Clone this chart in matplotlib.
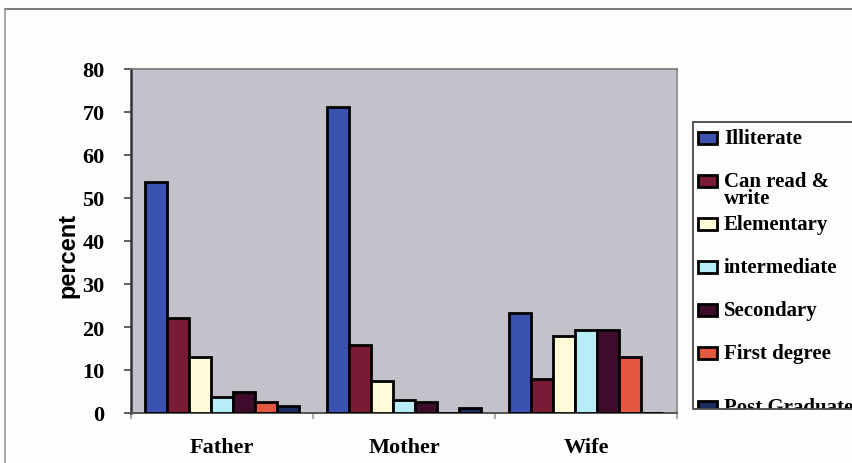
import matplotlib
matplotlib.use("Agg")
import matplotlib.pyplot as plt
import numpy as np
from matplotlib.patches import Rectangle

# Education level of relatives (percent)
groups = ["Father", "Mother", "Wife"]
levels = ["Illiterate", "Can read &\nwrite", "Elementary", "intermediate",
          "Secondary", "First degree", "Post Graduate"]
father = [53.7, 22.0, 13.0, 3.8, 4.9, 2.6, 1.7]
mother = [71.2, 15.9, 7.5, 3.0, 2.6, 0.0, 1.2]
wife = [23.2, 8.0, 18.0, 19.3, 19.3, 13.0, 0.0]
yticks = [0, 10, 20, 30, 40, 50, 60, 70, 80]

colors = ["#3b52b0", "#7b1a35", "#fffbd8", "#b8ecf7", "#3d0c2b", "#e4573f", "#1b2c5e"]

serif = "Liberation Serif"
sans = "Liberation Sans"

W, H = 853, 464
fig = plt.figure(figsize=(W / 100, H / 100), dpi=100, facecolor="#fdfdfd")

def fx(px):
    return px / W

def fy(py):
    return 1 - py / H

ax = fig.add_axes([fx(131), fy(414), fx(677) - fx(131), fy(70) - fy(414)])
ax.set_facecolor("#c4c1cb")

data = np.array([father, mother, wife])
n = len(levels)
bw = 0.845 / n
x = np.arange(len(groups))
for i in range(n):
    ax.bar(x - 0.4225 + bw * (i + 0.5), data[:, i], width=bw, color=colors[i],
           edgecolor="black", linewidth=2.0, zorder=3)

ax.set_xlim(-0.5, len(groups) - 0.5)
ax.set_ylim(0, 80)
ax.set_yticks(yticks)
ax.set_yticklabels([str(v) for v in yticks], fontfamily=serif, fontweight="bold", fontsize=16)
ax.tick_params(axis="y", direction="out", length=5, width=1.2, color="#444444", pad=14)

ax.set_xticks(np.arange(len(groups) + 1) - 0.5)
ax.set_xticklabels([])
ax.tick_params(axis="x", which="major", direction="out", length=4, width=1.2, color="#999999")
ax.set_xticks(x, minor=True)
ax.set_xticklabels(groups, minor=True, fontfamily=serif, fontweight="bold", fontsize=16)
ax.tick_params(axis="x", which="minor", length=0, pad=17)

for side, col, lw in [("left", "#333333", 1.8), ("bottom", "#555555", 1.4),
                      ("top", "#777777", 1.2), ("right", "#888888", 1.2)]:
    ax.spines[side].set_color(col)
    ax.spines[side].set_linewidth(lw)

ax.set_ylabel("percent", fontfamily=sans, fontweight="bold", fontsize=17)
ax.yaxis.set_label_coords(-0.095, 0.46)

# Outer chart border
fig.add_artist(plt.Line2D([fx(5), 1], [fy(10), fy(10)], color="#666666", lw=1.2))
fig.add_artist(plt.Line2D([fx(5), fx(5)], [fy(10), 0], color="#999999", lw=1.2))

# Legend box (runs past the right edge)
lx0, ly0, lx1, ly1 = 693, 123, 880, 410
box = Rectangle((fx(lx0), fy(ly1)), fx(lx1) - fx(lx0), fy(ly0) - fy(ly1),
                transform=fig.transFigure, facecolor="#fdfdfd", edgecolor="#555555",
                linewidth=1.2, zorder=5)
fig.add_artist(box)
frame = Rectangle((fx(lx0), fy(ly1)), fx(lx1) - fx(lx0), fy(ly0) - fy(ly1),
                  transform=fig.transFigure, facecolor="none", edgecolor="#555555",
                  linewidth=1.2, zorder=8)
fig.add_artist(frame)
ycent = [139, 182, 225, 268, 311, 354, 408]
for i, (lab, yc) in enumerate(zip(levels, ycent)):
    sq = Rectangle((fx(698), fy(yc + 6)), fx(19), fy(0) - fy(12),
                   transform=fig.transFigure, facecolor=colors[i], edgecolor="black",
                   linewidth=2.0, zorder=6)
    fig.add_artist(sq)
    sq.set_clip_path(box)
    t = fig.text(fx(724), fy(yc - 10), lab, fontfamily=serif, fontweight="bold",
                 fontsize=15, va="top", ha="left", linespacing=0.8, zorder=7)
    t.set_clip_path(box)

fig.savefig("out.png", dpi=100, facecolor=fig.get_facecolor())
